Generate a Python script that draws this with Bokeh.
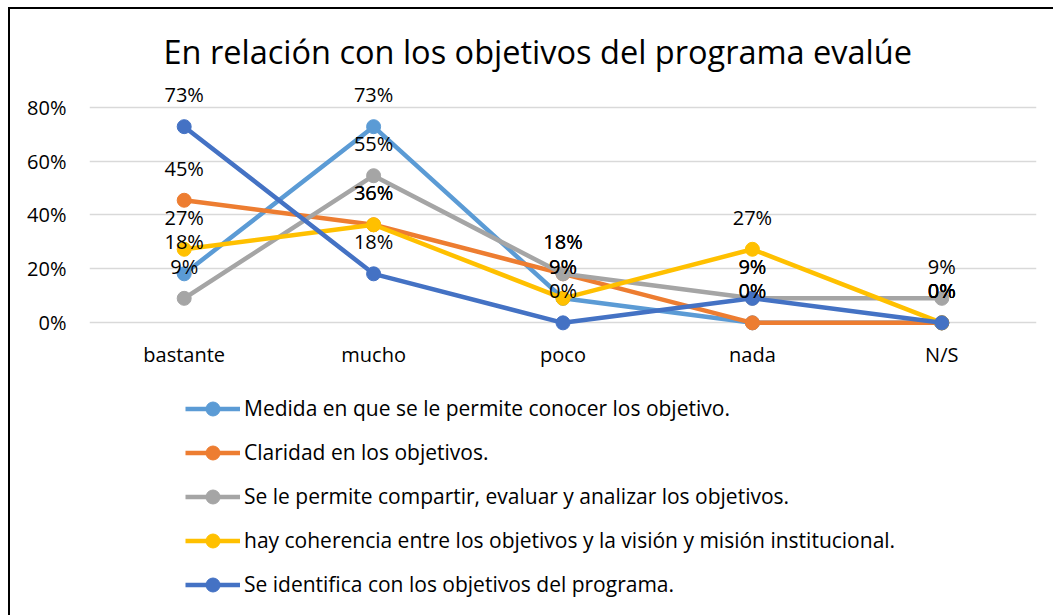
from bokeh.plotting import figure
from bokeh.layouts import column
from bokeh.models import (Range1d, FixedTicker, NumeralTickFormatter, Legend, LegendItem,
                          ColumnDataSource, Title)
from bokeh.core.properties import value
from bokeh.embed import file_html
from bokeh.resources import INLINE

FONT = "Open Sans"

title_text = "En relación con los objetivos del programa evalúe"
categories = ["bastante", "mucho", "poco", "nada", "N/S"]
y_ticks = [0, 0.2, 0.4, 0.6, 0.8]

series_names = [
    "Medida en que se le permite conocer los objetivo.",
    "Claridad en los objetivos.",
    "Se le permite compartir, evaluar y analizar los objetivos.",
    "hay coherencia entre los objetivos y la visión y misión institucional.",
    "Se identifica con los objetivos del programa.",
]
medida = [0.1818, 0.7273, 0.0909, 0.0, 0.0]
claridad = [0.4545, 0.3636, 0.1818, 0.0, 0.0]
compartir = [0.0909, 0.5455, 0.1818, 0.0909, 0.0909]
coherencia = [0.2727, 0.3636, 0.0909, 0.2727, 0.0]
identifica = [0.7273, 0.1818, 0.0, 0.0909, 0.0]
series_values = [medida, claridad, compartir, coherencia, identifica]
colors = ["#5B9BD5", "#ED7D31", "#A5A5A5", "#FFC000", "#4472C4"]

W = 1043
H_MAIN = 361
H_LEG = 245

# ---------------- main chart ----------------
p = figure(width=W, height=H_MAIN, x_range=categories, y_range=Range1d(-0.0506, 0.917),
           output_backend="svg", toolbar_location=None,
           min_border_left=79, min_border_right=17, min_border_top=66, min_border_bottom=33)
p.outline_line_color = None
p.background_fill_color = "white"
p.border_fill_color = "white"

t = Title(text=title_text, align="left", offset=74, text_font=FONT,
          text_font_size="32.5px", text_font_style="normal", text_color="#000000", standoff=4)
p.add_layout(t, "above")

p.xgrid.grid_line_color = None
p.ygrid.ticker = FixedTicker(ticks=y_ticks)
p.ygrid.grid_line_color = "#D9D9D9"
p.ygrid.grid_line_width = 1.5

p.yaxis.ticker = FixedTicker(ticks=y_ticks)
p.yaxis.formatter = NumeralTickFormatter(format="0%")
for ax in (p.xaxis[0], p.yaxis[0]):
    ax.axis_line_color = None
    ax.major_tick_line_color = None
    ax.minor_tick_line_color = None
    ax.major_tick_out = 0
    ax.major_tick_in = 0
    ax.major_label_text_font = FONT
    ax.major_label_text_font_size = "20px"
    ax.major_label_text_color = "#000000"
p.yaxis.major_label_standoff = 23
p.xaxis.major_label_standoff = 4

sources = []
for vals, col in zip(series_values, colors):
    src = ColumnDataSource(dict(x=categories, y=vals,
                                lab=[f"{round(v * 100)}%" for v in vals]))
    sources.append(src)
    p.line("x", "y", source=src, line_color=col, line_width=4.5)
    p.scatter("x", "y", source=src, size=14, fill_color=col, line_color=col)

for src in sources:
    p.text("x", "y", text="lab", source=src, text_align="center", text_baseline="middle",
           y_offset=-32, text_font=value(FONT), text_font_size="20px", text_color="#000000")

# ---------------- legend panel ----------------
# same series drawn again, but the y range is set far away so only the legend shows
lg = figure(width=W, height=H_LEG, x_range=categories, y_range=Range1d(10, 11),
            output_backend="svg", toolbar_location=None,
            min_border_left=0, min_border_right=0, min_border_top=0, min_border_bottom=0)
lg.outline_line_color = None
lg.axis.visible = False
lg.grid.visible = False
lg.background_fill_color = "white"
lg.border_fill_color = "white"

items = []
for name, src, col in zip(series_names, sources, colors):
    ln = lg.line("x", "y", source=src, line_color=col, line_width=4.5)
    sc = lg.scatter("x", "y", source=src, size=14, fill_color=col, line_color=col)
    items.append(LegendItem(label=name, renderers=[ln, sc]))

legend = Legend(items=items, location=(96, 9), orientation="vertical",
                glyph_width=55, glyph_height=35, label_height=44, spacing=0, padding=0, margin=0,
                label_standoff=4, label_text_font=FONT, label_text_font_size="21px",
                label_text_color="#000000", border_line_color=None, background_fill_alpha=0)
lg.add_layout(legend, "center")

layout = column(p, lg, spacing=0)
layout.styles = {"margin-left": "8px", "margin-top": "7px",
                 "border-left": "2px solid black", "border-top": "2px solid black"}

open("out.html", "w").write(file_html(layout, INLINE))
